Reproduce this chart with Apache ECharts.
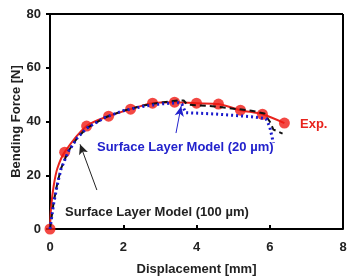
<!DOCTYPE html>
<html>
<head>
<meta charset="utf-8">
<script src="https://cdn.jsdelivr.net/npm/echarts@6/dist/echarts.min.js"></script>
<style>
  html, body { margin: 0; padding: 0; background: #fff; }
  #chart { width: 349px; height: 280px; }
</style>
</head>
<body>
<div id="chart"></div>
<script>
const FONT = "Liberation Sans, Arial, sans-serif";

// experiment markers [displacement mm, force N]
const expPoints = [
  [0, 0], [0.4, 28.6], [1.0, 38.3], [1.6, 42.0], [2.2, 44.6], [2.8, 46.8],
  [3.4, 47.2], [4.0, 46.8], [4.6, 46.5], [5.2, 44.2], [5.8, 42.7], [6.4, 39.4],
];
// extra points on the red curve near the origin
const expLine = [
  [0, 0], [0.03, 8], [0.1, 16], [0.2, 22.5], [0.4, 28.6], [1.0, 38.3], [1.6, 42.0],
  [2.2, 44.6], [2.8, 46.8], [3.4, 47.2], [4.0, 46.8], [4.6, 46.5], [5.2, 44.2],
  [5.8, 42.7], [6.4, 39.4],
];
const model100 = [
  [0, 0], [0.1, 10], [0.2, 17], [0.3, 22.5], [0.5, 29], [0.75, 34], [1.0, 37.5],
  [1.5, 41.5], [2.0, 44], [2.5, 45.8], [3.0, 47], [3.5, 47.8], [3.65, 47.8],
  [3.75, 46.3], [4.5, 45.6], [5.5, 44], [5.85, 43], [6.0, 40], [6.1, 37], [6.35, 35.5],
];
const model20 = [
  [0, 0], [0.1, 9.5], [0.2, 16.5], [0.3, 22.3], [0.5, 28.8], [0.75, 34], [1.0, 37.5],
  [1.5, 41.5], [2.0, 44], [2.5, 45.5], [3.0, 46.5], [3.5, 47], [3.6, 46.5],
  [3.7, 43.3], [4.5, 42.8], [5.5, 41.8], [5.9, 41], [6.0, 38], [6.05, 35], [6.1, 32],
];

const chart = echarts.init(document.getElementById("chart"));
chart.setOption({
  animation: false,
  grid: { left: 50, right: 6, top: 14, bottom: 51, containLabel: false, outerBoundsMode: "none" },
  xAxis: {
    type: "value", min: 0, max: 8, interval: 2,
    name: "Displacement [mm]", nameLocation: "middle", nameGap: 34,
    nameTextStyle: { fontFamily: FONT, fontWeight: "bold", fontSize: 13, color: "#222" },
    axisLine: { onZero: false, lineStyle: { color: "#000", width: 2 } },
    axisTick: { inside: true, length: 4, lineStyle: { color: "#000", width: 2 } },
    axisLabel: { fontFamily: FONT, fontWeight: "bold", fontSize: 13, color: "#222", margin: 12 },
    splitLine: { show: false },
  },
  yAxis: {
    type: "value", min: 0, max: 80, interval: 20,
    name: "Bending Force [N]", nameLocation: "middle", nameGap: 27, nameMoveOverlap: false,
    nameTextStyle: { fontFamily: FONT, fontWeight: "bold", fontSize: 13, color: "#222" },
    axisLine: { show: true, lineStyle: { color: "#000", width: 2 } },
    axisTick: { show: true, length: 4, lineStyle: { color: "#000", width: 2 } },
    axisLabel: { fontFamily: FONT, fontWeight: "bold", fontSize: 13, color: "#222", margin: 9 },
    splitLine: { show: false },
  },
  graphic: [
    { type: "line", shape: { x1: 50, y1: 14, x2: 343, y2: 14 }, style: { stroke: "#000", lineWidth: 2 } },
    { type: "line", shape: { x1: 343, y1: 14, x2: 343, y2: 229 }, style: { stroke: "#000", lineWidth: 2 } },
    { type: "text", left: 300, top: 118, style: { text: "Exp.", fill: "#e8231c", font: "bold 13px " + FONT } },
    { type: "text", left: 97, top: 141, style: { text: "Surface Layer Model (20 \u00b5m)", fill: "#2222cc", font: "bold 13px " + FONT } },
    { type: "text", left: 65, top: 206, style: { text: "Surface Layer Model (100 \u00b5m)", fill: "#222", font: "bold 13px " + FONT } },
  ],
  series: [
    {
      name: "Exp. line", type: "line", data: expLine, smooth: 0.3, symbol: "none",
      lineStyle: { color: "#e8231c", width: 2 }, z: 2,
    },
    {
      name: "Exp.", type: "scatter", data: expPoints, symbol: "circle", symbolSize: 11,
      itemStyle: { color: "#f01a14" }, z: 3,
    },
    {
      name: "Model 100", type: "line", data: model100, symbol: "none",
      lineStyle: { color: "#111", width: 2, type: [6, 4] }, z: 4,
      markLine: {
        silent: true, symbol: ["none", "arrow"], symbolSize: [7, 10],
        label: { show: false },
        lineStyle: { color: "#222", width: 1, type: "solid" },
        data: [[{ coord: [1.28, 14.5] }, { coord: [0.82, 31.5] }]],
      },
    },
    {
      name: "Model 20", type: "line", data: model20, symbol: "none",
      lineStyle: { color: "#1a1acc", width: 3, type: [2, 3] }, z: 5,
      markLine: {
        silent: true, symbol: ["none", "arrow"], symbolSize: [7, 10],
        label: { show: false },
        lineStyle: { color: "#2222cc", width: 1, type: "solid" },
        data: [[{ coord: [3.44, 35.7] }, { coord: [3.58, 45.7] }]],
      },
    },
  ],
});
</script>
</body>
</html>
